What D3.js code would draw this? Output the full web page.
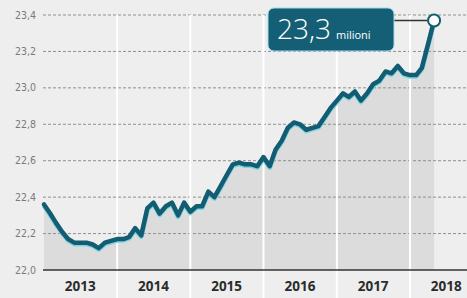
<!DOCTYPE html>
<html>
<head>
<meta charset="utf-8">
<script src="https://cdn.jsdelivr.net/npm/d3@7"></script>
<style>
  html, body { margin: 0; padding: 0; background: #eeeeee; }
  svg { display: block; }
</style>
</head>
<body>
<svg id="chart" width="467" height="298"></svg>
<script>
// Occupati (milioni), dati mensili da gennaio 2013
const startYear = 2013;
const values = [
  22.36, 22.31, 22.26, 22.21, 22.17, 22.15, 22.15, 22.15, 22.14, 22.12, 22.15, 22.16,
  22.17, 22.17, 22.18, 22.23, 22.19, 22.34, 22.37, 22.31, 22.35, 22.37, 22.30, 22.37,
  22.32, 22.35, 22.35, 22.43, 22.40, 22.46, 22.52, 22.58, 22.59, 22.58, 22.58, 22.57,
  22.62, 22.57, 22.66, 22.71, 22.78, 22.81, 22.80, 22.77, 22.78, 22.79, 22.84, 22.89,
  22.93, 22.97, 22.95, 22.98, 22.93, 22.97, 23.02, 23.04, 23.09, 23.08, 23.12, 23.08,
  23.07, 23.07, 23.11, 23.24, 23.37
];
const years = [2013, 2014, 2015, 2016, 2017, 2018];
const yTicks = [22.0, 22.2, 22.4, 22.6, 22.8, 23.0, 23.2, 23.4];
const calloutValue = "23,3";
const calloutUnit = "milioni";

const svg = d3.select('#chart');
const width = 467, height = 298;

const data = values.map((v, i) => ({ date: new Date(startYear, i, 1), value: v }));

const x = d3.scaleTime()
  .domain([new Date(2013, 0, 1), new Date(2019, 0, 1)])
  .range([44, 44 + 6 * 73.2]);
const y = d3.scaleLinear()
  .domain([22.0, 23.4])
  .range([270, 15]);

const fmt = d => d.toFixed(1).replace('.', ',');

// background
svg.append('rect')
  .attr('width', width).attr('height', height)
  .attr('fill', '#eeeeee');

// area under the line
const area = d3.area()
  .x(d => x(d.date))
  .y0(y(22.0))
  .y1(d => y(d.value));
svg.append('path')
  .datum(data)
  .attr('d', area)
  .attr('fill', '#dcdcdc');

// dashed gridlines
svg.append('g')
  .selectAll('line')
  .data(yTicks.slice(1))
  .join('line')
  .attr('x1', 43).attr('x2', width)
  .attr('y1', d => y(d)).attr('y2', d => y(d))
  .attr('stroke', '#8f8f8f')
  .attr('stroke-width', 1)
  .attr('stroke-dasharray', '3,2');

// year separators
svg.append('g')
  .selectAll('line')
  .data(years.slice(1))
  .join('line')
  .attr('x1', d => x(new Date(d, 0, 1))).attr('x2', d => x(new Date(d, 0, 1)))
  .attr('y1', y(23.4)).attr('y2', height)
  .attr('stroke', '#ffffff')
  .attr('stroke-width', 2);

// axis baseline
svg.append('line')
  .attr('x1', 43).attr('x2', width)
  .attr('y1', y(22.0)).attr('y2', y(22.0))
  .attr('stroke', '#333333')
  .attr('stroke-width', 1.5);

// y tick labels
svg.append('g')
  .selectAll('text')
  .data(yTicks)
  .join('text')
  .attr('x', 36)
  .attr('y', d => y(d) + 3.5)
  .attr('text-anchor', 'end')
  .attr('fill', '#7a7a7a')
  .style('font-family', "'Liberation Sans Narrow', 'DejaVu Sans Condensed', sans-serif")
  .style('font-size', '10.5px')
  .text(fmt);

// year labels
svg.append('g')
  .selectAll('text')
  .data(years)
  .join('text')
  .attr('x', d => x(new Date(d, 6, 1)))
  .attr('y', 291)
  .attr('text-anchor', 'middle')
  .attr('fill', '#2b2b2b')
  .style('font-family', "'Open Sans', sans-serif")
  .style('font-weight', 'bold')
  .style('font-size', '13.5px')
  .text(d => d);

// line with light halo
const line = d3.line()
  .x(d => x(d.date))
  .y(d => y(d.value));
svg.append('path')
  .datum(data)
  .attr('d', line)
  .attr('transform', 'translate(0,1.2)')
  .attr('fill', 'none')
  .attr('stroke', '#7fd3e3')
  .attr('stroke-width', 5)
  .attr('stroke-linejoin', 'round');
svg.append('path')
  .datum(data)
  .attr('d', line)
  .attr('fill', 'none')
  .attr('stroke', '#135d72')
  .attr('stroke-width', 4.5)
  .attr('stroke-linejoin', 'round')
  .attr('stroke-linecap', 'round');

// callout
const last = data[data.length - 1];
const boxX = 268, boxY = 8, boxW = 126, boxH = 43;
svg.append('line')
  .attr('x1', boxX + boxW).attr('x2', x(last.date))
  .attr('y1', y(last.value)).attr('y2', y(last.value))
  .attr('stroke', '#333333')
  .attr('stroke-width', 1.5);
svg.append('rect')
  .attr('x', boxX).attr('y', boxY)
  .attr('width', boxW).attr('height', boxH)
  .attr('rx', 6)
  .attr('fill', '#155f76')
  .attr('stroke', '#9fdbe8')
  .attr('stroke-width', 1);
const label = svg.append('text')
  .attr('x', boxX + 9)
  .attr('y', boxY + 31)
  .attr('fill', '#ffffff')
  .style('font-family', "'Open Sans', sans-serif");
label.append('tspan')
  .style('font-size', '28px')
  .style('font-weight', 300)
  .text(calloutValue);
label.append('tspan')
  .attr('dx', 5)
  .style('font-size', '11px')
  .text(calloutUnit);

svg.append('circle')
  .attr('cx', x(last.date))
  .attr('cy', y(last.value))
  .attr('r', 6)
  .attr('fill', '#ffffff')
  .attr('stroke', '#135d72')
  .attr('stroke-width', 2);
</script>
</body>
</html>
